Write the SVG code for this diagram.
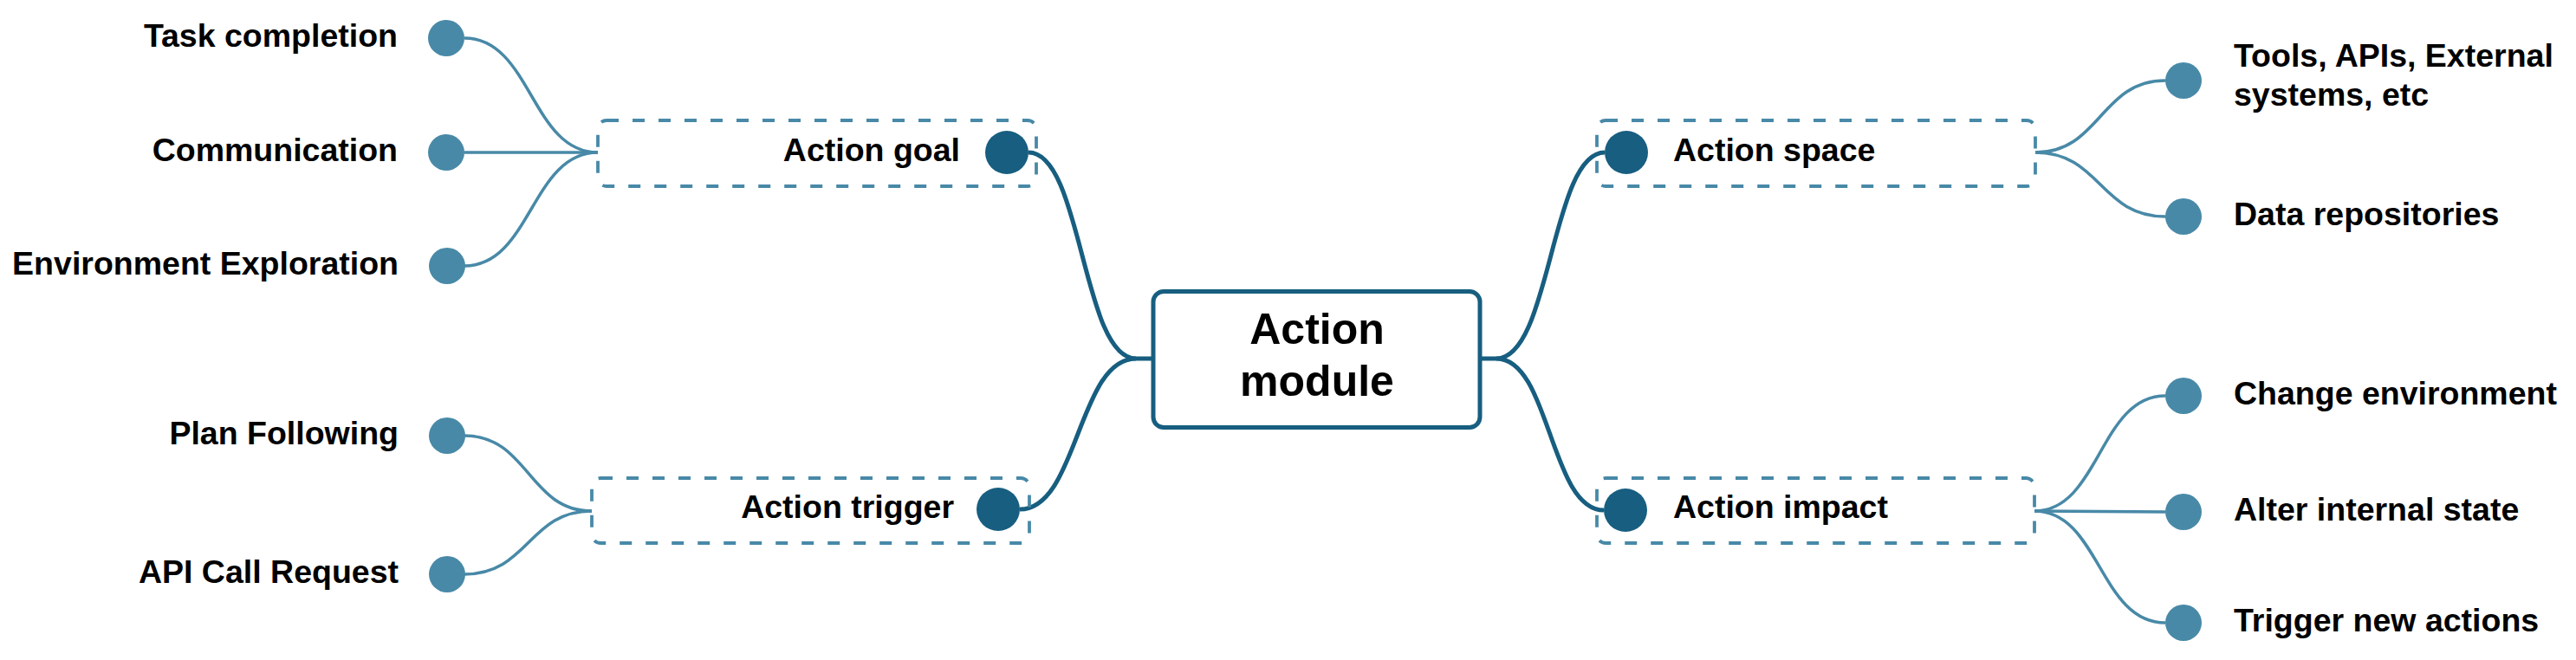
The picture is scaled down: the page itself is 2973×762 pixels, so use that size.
<svg xmlns="http://www.w3.org/2000/svg" width="2973" height="762" viewBox="0 0 2973 762">
<style>
text{font-family:"Liberation Sans",Arial,sans-serif;font-weight:bold;fill:#000}
.lbl{font-size:37.5px}
.main{font-size:50px}
.end{text-anchor:end}
.mid{text-anchor:middle}
.leaf{fill:#4889a7}
.node{fill:#175e80}
.grp{fill:none;stroke:#4889a7;stroke-width:3.8;stroke-dasharray:14 16}
.lc{fill:none;stroke:#4889a7;stroke-width:3.5}
.dc{fill:none;stroke:#175e80;stroke-width:5}
</style>
<rect width="2973" height="762" fill="#fff"/>
<g id="connectors">
<path class="dc" d="M1187 176 C1249 176 1249 414 1311 414 L1331 414"/>
<path class="dc" d="M1177 588 C1244 588 1244 414 1311 414"/>
<path class="dc" d="M1852 176 C1790 176 1790 414 1727 414 L1708 414"/>
<path class="dc" d="M1851 589 C1789 589 1789 414 1727 414"/>
<path class="lc" d="M690 176 C613 176 613 44 536 44"/>
<path class="lc" d="M690 176 L536 176"/>
<path class="lc" d="M690 176 C613 176 613 307 536 307"/>
<path class="lc" d="M683 590 C610 590 610 503 536 503"/>
<path class="lc" d="M683 590 C610 590 610 663 536 663"/>
<path class="lc" d="M2349 176 C2424 176 2424 93 2499 93"/>
<path class="lc" d="M2349 176 C2424 176 2424 250 2499 250"/>
<path class="lc" d="M2348 590 C2423 590 2423 457 2499 457"/>
<path class="lc" d="M2348 590 L2499 591"/>
<path class="lc" d="M2348 590 C2423 590 2423 719 2499 719"/>
</g>
<g id="action-module">
<rect x="1331" y="336.5" width="377" height="157" rx="12" fill="#fff" stroke="#175e80" stroke-width="5"/>
<text class="main mid" x="1520" y="397">Action</text>
<text class="main mid" x="1520" y="457">module</text>
</g>
<g id="action-goal">
<rect class="grp" x="690" y="139" width="506" height="76" rx="10"/>
<circle class="node" cx="1162" cy="176" r="25"/>
<text class="lbl end" x="1108" y="186">Action goal</text>
</g>
<g id="action-trigger">
<rect class="grp" x="683" y="552" width="505" height="75" rx="10"/>
<circle class="node" cx="1152" cy="588" r="25"/>
<text class="lbl end" x="1101" y="598">Action trigger</text>
</g>
<g id="action-space">
<rect class="grp" x="1843" y="139" width="506" height="76" rx="10"/>
<circle class="node" cx="1877" cy="176" r="25"/>
<text class="lbl" x="1931" y="186">Action space</text>
</g>
<g id="action-impact">
<rect class="grp" x="1843" y="552" width="505" height="75" rx="10"/>
<circle class="node" cx="1876" cy="589" r="25"/>
<text class="lbl" x="1931" y="598">Action impact</text>
</g>
<g id="task-completion">
<circle class="leaf" cx="515" cy="44" r="21"/>
<text class="lbl end" x="459" y="54">Task completion</text>
</g>
<g id="communication">
<circle class="leaf" cx="515" cy="176" r="21"/>
<text class="lbl end" x="459" y="186">Communication</text>
</g>
<g id="environment-exploration">
<circle class="leaf" cx="516" cy="307" r="21"/>
<text class="lbl end" x="460" y="317">Environment Exploration</text>
</g>
<g id="plan-following">
<circle class="leaf" cx="516" cy="503" r="21"/>
<text class="lbl end" x="460" y="513">Plan Following</text>
</g>
<g id="api-call-request">
<circle class="leaf" cx="516" cy="663" r="21"/>
<text class="lbl end" x="460" y="673">API Call Request</text>
</g>
<g id="tools-apis">
<circle class="leaf" cx="2520" cy="93" r="21"/>
<text class="lbl" x="2578" y="77">Tools, APIs, External</text>
<text class="lbl" x="2578" y="122">systems, etc</text>
</g>
<g id="data-repositories">
<circle class="leaf" cx="2520" cy="250" r="21"/>
<text class="lbl" x="2578" y="260">Data repositories</text>
</g>
<g id="change-environment">
<circle class="leaf" cx="2520" cy="457" r="21"/>
<text class="lbl" x="2578" y="467">Change environment</text>
</g>
<g id="alter-internal-state">
<circle class="leaf" cx="2520" cy="591" r="21"/>
<text class="lbl" x="2578" y="601">Alter internal state</text>
</g>
<g id="trigger-new-actions">
<circle class="leaf" cx="2520" cy="719" r="21"/>
<text class="lbl" x="2578" y="729">Trigger new actions</text>
</g>
</svg>
